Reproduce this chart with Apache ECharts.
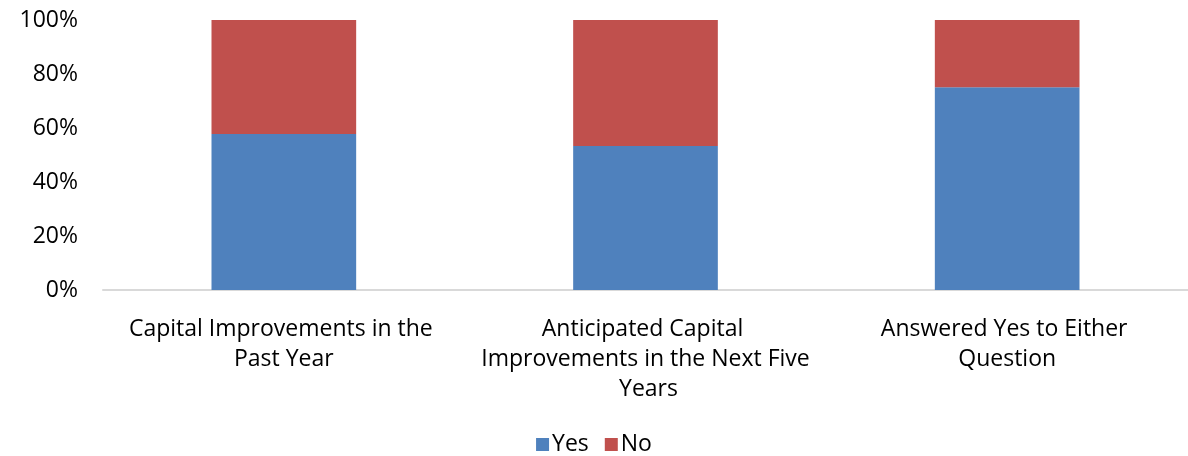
<!DOCTYPE html>
<html>
<head>
<meta charset="utf-8">
<script src="https://cdn.jsdelivr.net/npm/echarts@6/dist/echarts.min.js"></script>
<style>
  html, body { margin: 0; padding: 0; background: #fff; }
  #main { width: 1188px; height: 456px; }
</style>
</head>
<body>
<div id="main"></div>
<script>
const categories = [
  'Capital Improvements in the Past Year',
  'Anticipated Capital Improvements in the Next Five Years',
  'Answered Yes to Either Question'
];
const yesValues = [57.8, 53.3, 75.1];
const noValues = [42.2, 46.7, 24.9];
const yTicks = [0, 20, 40, 60, 80, 100];

const font = '"Open Sans", sans-serif';
const chart = echarts.init(document.getElementById('main'), null, { renderer: 'canvas' });

chart.setOption({
  backgroundColor: '#ffffff',
  animation: false,
  grid: { left: 103, width: 1095, top: 20, height: 270, containLabel: false },
  legend: {
    data: ['Yes', 'No'],
    top: 428,
    left: 'center',
    itemWidth: 13,
    itemHeight: 13,
    itemGap: 16,
    icon: 'rect',
    textStyle: { fontFamily: font, fontSize: 23, color: '#000', padding: [0, 0, 0, -2] }
  },
  xAxis: {
    type: 'category',
    data: categories,
    axisLine: { lineStyle: { color: '#d9d9d9', width: 2 } },
    axisTick: { show: false },
    axisLabel: {
      fontFamily: font,
      fontSize: 23,
      color: '#000',
      margin: 24,
      lineHeight: 30,
      width: 330,
      overflow: 'break',
      interval: 0
    }
  },
  yAxis: {
    type: 'value',
    min: yTicks[0],
    max: yTicks[yTicks.length - 1],
    interval: 20,
    splitLine: { show: false },
    axisLine: { show: false },
    axisTick: { show: false },
    axisLabel: {
      fontFamily: font,
      fontSize: 23,
      color: '#000',
      margin: 25,
      formatter: v => v + '%'
    }
  },
  series: [
    {
      name: 'Yes',
      type: 'bar',
      stack: 'total',
      barWidth: '40%',
      itemStyle: { color: '#4F81BD' },
      data: yesValues
    },
    {
      name: 'No',
      type: 'bar',
      stack: 'total',
      barWidth: '40%',
      itemStyle: { color: '#C0504D' },
      data: noValues
    }
  ]
});
</script>
</body>
</html>
